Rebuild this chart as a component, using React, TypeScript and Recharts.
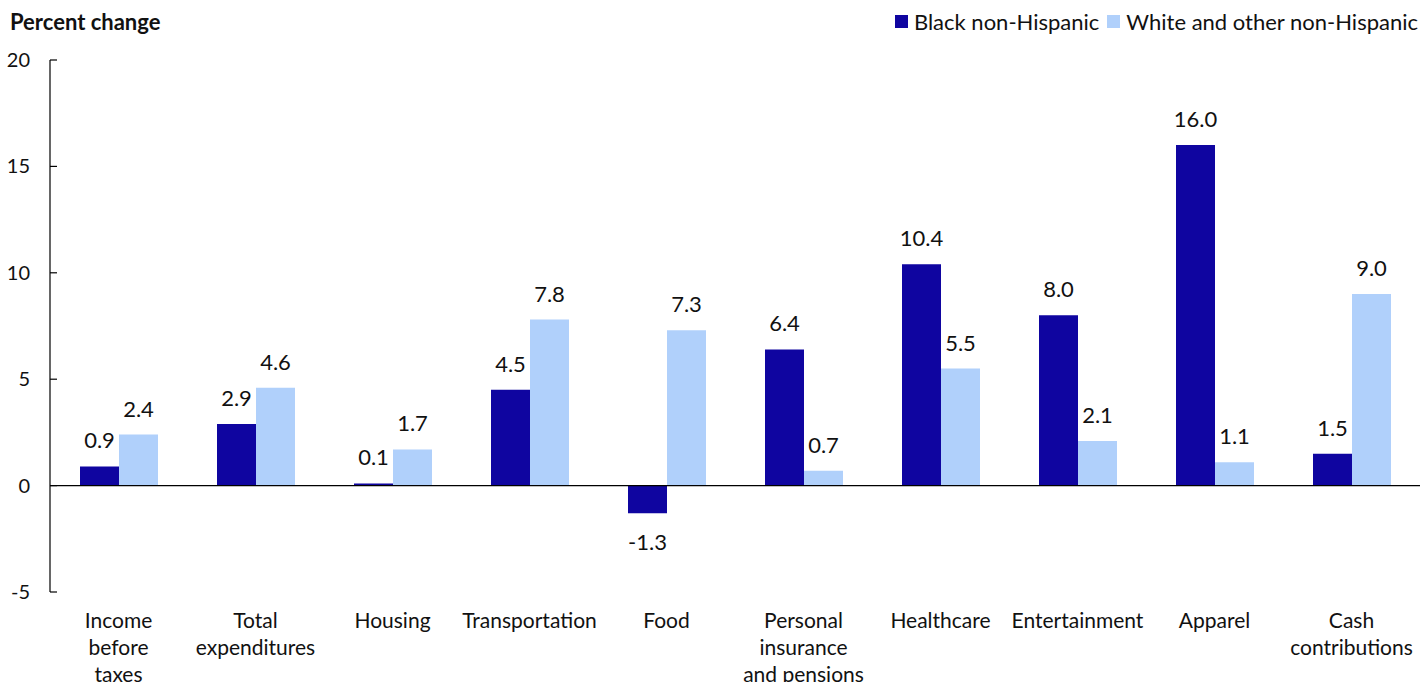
import React from 'react';
import { Bar, BarChart, LabelList, ReferenceLine, XAxis, YAxis } from 'recharts';

const categories = [
  'Income\nbefore\ntaxes',
  'Total\nexpenditures',
  'Housing',
  'Transportation',
  'Food',
  'Personal\ninsurance\nand pensions',
  'Healthcare',
  'Entertainment',
  'Apparel',
  'Cash\ncontributions',
];
const blackValues = [0.9, 2.9, 0.1, 4.5, -1.3, 6.4, 10.4, 8.0, 16.0, 1.5];
const whiteValues = [2.4, 4.6, 1.7, 7.8, 7.3, 0.7, 5.5, 2.1, 1.1, 9.0];
const yTicks = [-5, 0, 5, 10, 15, 20];

const seriesInfo = [
  { key: 'black', label: 'Black non-Hispanic', color: '#0f05a0' },
  { key: 'white', label: 'White and other non-Hispanic', color: '#b0d0fb' },
];

const data = categories.map((name, i) => ({ name, black: blackValues[i], white: whiteValues[i] }));

const font = 'Lato, "Open Sans", sans-serif';

const XTick = (props: any) => {
  const { x, y, payload } = props;
  const lines = String(payload.value).split('\n');
  return (
    <text x={x} y={y} textAnchor="middle" fontFamily={font} fontSize={21} fill="#111">
      {lines.map((line, i) => (
        <tspan key={i} x={x} dy={i === 0 ? 28 : 27}>
          {line}
        </tspan>
      ))}
    </text>
  );
};

const YTick = (props: any) => {
  const { x, y, payload } = props;
  return (
    <g>
      <line x1={x + 8} x2={x + 15} y1={y} y2={y} stroke="#000" strokeWidth={1.2} />
      <text x={x - 12} y={y} dy={7} textAnchor="end" fontFamily={font} fontSize={20} fill="#111">
        {payload.value}
      </text>
    </g>
  );
};

const ValueLabel = (props: any) => {
  const { x, y, width, height, value } = props;
  const top = Math.min(y, y + height);
  const bottom = Math.max(y, y + height);
  const ty = value < 0 ? bottom + 37 : top - 18;
  return (
    <text x={x + width / 2} y={ty} textAnchor="middle" fontFamily={font} fontSize={22} fill="#111">
      {Number(value).toFixed(1)}
    </text>
  );
};

export default function App() {
  return (
    <div style={{ position: 'absolute', left: 0, top: 0, width: 1421, height: 682, background: '#fff', overflow: 'hidden' }}>
      <div
        style={{
          position: 'absolute',
          left: 10,
          top: 8,
          fontFamily: font,
          fontWeight: 700,
          fontSize: 22,
          color: '#111',
        }}
      >
        Percent change
      </div>
      <div
        style={{
          position: 'absolute',
          right: 3,
          top: 8,
          display: 'flex',
          fontFamily: font,
          fontSize: 22,
          color: '#111',
          whiteSpace: 'nowrap',
        }}
      >
        {seriesInfo.map((s) => (
          <div key={s.key} style={{ display: 'flex', alignItems: 'center', marginLeft: 8 }}>
            <span style={{ width: 13, height: 13, background: s.color, display: 'inline-block', marginRight: 6 }} />
            <span>{s.label}</span>
          </div>
        ))}
      </div>
      <BarChart
        width={1421}
        height={682}
        data={data}
        margin={{ top: 60, right: 1, bottom: 0, left: 0 }}
        barGap={0}
        barSize={39}
      >
        <XAxis dataKey="name" axisLine={false} tickLine={false} tick={<XTick />} interval={0} height={90} />
        <YAxis
          domain={[-5, 20]}
          ticks={yTicks}
          width={50}
          axisLine={{ stroke: '#000', strokeWidth: 1.2 }}
          tickLine={false}
          tick={<YTick />}
        />
        <ReferenceLine y={0} stroke="#000" strokeWidth={1.2} />
        {seriesInfo.map((s) => (
          <Bar key={s.key} dataKey={s.key} name={s.label} fill={s.color} isAnimationActive={false}>
            <LabelList dataKey={s.key} content={<ValueLabel />} />
          </Bar>
        ))}
      </BarChart>
    </div>
  );
}
